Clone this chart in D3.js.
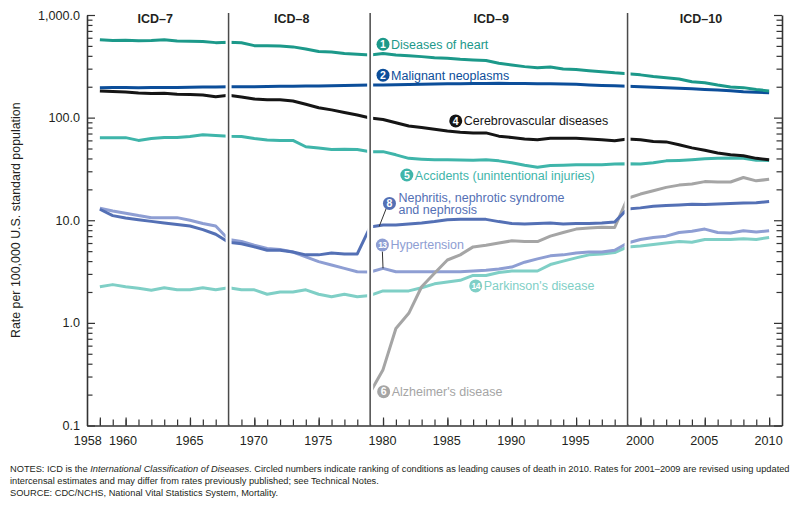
<!DOCTYPE html>
<html>
<head>
<meta charset="utf-8">
<script src="https://cdn.jsdelivr.net/npm/d3@7"></script>
<style>
  body { margin: 0; background: #fff; }
  svg { display: block; font-family: "Liberation Sans", Arial, Helvetica, sans-serif; }
</style>
</head>
<body>
<div id="chart"></div>
<script>
// age-adjusted death rates (one value per year)
var firstYear = 1958;
var lastYear = 2010;

var heart = [575, 563, 568, 560, 565, 575, 558, 555, 552, 538,
	543, 536, 503, 503, 500, 489, 467, 440, 436, 421,
	415, 408, 421, 408, 400, 393, 384, 379, 370, 365,
	360, 339, 326, 314, 307, 312, 298, 294, 287, 280,
	273, 268, 261, 251, 245, 238, 224, 219, 208, 199,
	196, 188, 182];
var cancer = [196, 197, 197, 196, 197, 197, 197, 198, 199, 199,
	200, 200, 200, 201, 202, 202, 203, 203, 205, 206,
	207, 208, 208, 209, 210, 211, 213, 214, 214, 215,
	215, 216, 215, 215, 214, 214, 213, 211, 208, 206,
	204, 202, 200, 198, 196, 193, 191, 188, 186, 183,
	179, 177, 175];
var stroke = [182, 180, 178, 174, 172, 173, 169, 168, 166, 160,
	165, 159, 152, 149, 149, 145, 135, 125, 119, 112,
	106, 99, 96, 89, 83, 80, 77, 74, 72, 71,
	71, 66, 64, 62, 61, 63, 63, 63, 62, 61,
	59.5, 62, 61, 58.6, 58, 54.5, 50.7, 48, 45.3, 43.4,
	42.5, 40.1, 38.9];
var accidents = [63.8, 63.8, 63.8, 60, 62.5, 64, 64, 65.5, 68, 67,
	66, 65.6, 62.5, 60.5, 60, 60, 52, 50.5, 48.8, 49.3,
	48.8, 46.6, 46.6, 43.4, 40.1, 39.4, 38.9, 38.9, 38.7, 38.5,
	38.9, 37.9, 36.3, 34.3, 32.8, 34.1, 34.3, 34.7, 34.7, 34.7,
	35.3, 35.6, 35.3, 36.3, 37.9, 38.3, 38.9, 39.7, 40.1, 40.5,
	40.1, 38.4, 38.3];
var nephritis = [12.8, 11.1, 10.5, 10.1, 9.75, 9.4, 9.1, 8.8, 8.1, 7.3,
	6.1, 5.9, 5.5, 5.1, 5.1, 4.9, 4.6, 4.6, 4.8, 4.7,
	4.7, 8.6, 9.0, 9.0, 9.2, 9.4, 9.7, 10.1, 10.2, 10.2,
	10.2, 9.7, 9.3, 9.2, 9.3, 9.4, 9.2, 9.3, 9.3, 9.4,
	9.6, 12.9, 13.2, 13.7, 13.9, 14.1, 14.3, 14.2, 14.4, 14.6,
	14.7, 14.8, 15.2];
var hypertension = [13.1, 12.3, 11.7, 11.1, 10.6, 10.6, 10.6, 10.0, 9.3, 8.8,
	6.5, 6.2, 5.7, 5.3, 5.2, 4.9, 4.4, 3.95, 3.66, 3.4,
	3.15, 3.13, 3.4, 3.15, 3.15, 3.15, 3.15, 3.15, 3.15, 3.2,
	3.25, 3.35, 3.5, 3.9, 4.2, 4.5, 4.6, 4.8, 4.9, 4.9,
	5.1, 6.0, 6.5, 6.8, 7.0, 7.6, 7.8, 8.2, 7.6, 7.5,
	7.9, 7.7, 7.9];
var parkinson = [2.25, 2.36, 2.25, 2.17, 2.08, 2.2, 2.1, 2.1, 2.2, 2.1,
	2.2, 2.1, 2.1, 1.9, 2.0, 2.0, 2.1, 1.9, 1.8, 1.9,
	1.8, 1.85, 2.05, 2.05, 2.05, 2.2, 2.4, 2.5, 2.6, 2.9,
	2.9, 3.1, 3.2, 3.2, 3.2, 3.7, 4.0, 4.3, 4.6, 4.7,
	4.85, 5.5, 5.6, 5.8, 6.0, 6.2, 6.1, 6.5, 6.5, 6.5,
	6.6, 6.5, 6.8];
// Alzheimer's disease is only shown from 1979 on
var alzheimerStart = 1979;
var alzheimer = [0.21, 0.35, 0.88, 1.24, 2.25, 3.04, 4.1, 4.6, 5.5, 5.7,
	6.0, 6.3, 6.2, 6.2, 7.0, 7.6, 8.2, 8.4, 8.55, 8.5,
	16.4, 18.0, 19.4, 20.9, 22.0, 22.6, 23.8, 23.6, 23.6, 26.1,
	24.2, 25.1];

// ICD revisions
var icdBreaks = [1968, 1979, 1999];
var icdNames = ['ICD–7', 'ICD–8', 'ICD–9', 'ICD–10'];
var icdLabelYears = [1962.3, 1972.9, 1988.4, 2004.7];

// axes
var yMajorTicks = [0.1, 1, 10, 100, 1000];
var xLabelYears = [1958, 1960, 1965, 1970, 1975, 1980, 1985, 1990, 1995, 2000, 2005, 2010];

var notes = [
	['NOTES: ICD is the ', 'International Classification of Diseases', '. Circled numbers indicate ranking of conditions as leading causes of death in 2010. Rates for 2001–2009 are revised using updated'],
	['intercensal estimates and may differ from rates previously published; see Technical Notes.'],
	['SOURCE: CDC/NCHS, National Vital Statistics System, Mortality.']
];

var params = {
	width: 800,
	height: 508,
	xRange: [87, 782],
	yRange: [425.5, 15],
	lineWidth: 3,
	axisColor: '#333',
	textColor: '#231f20',
	r: 6.5
};

function toPoints(values, start){
	return values.map(function(v, i){ return {year: start + i, value: v}; });
}

// series: label spot (circle centre) given as [year, rate]
var series = [
	{values: toPoints(parkinson, firstYear), color: '#7fcfc6', rank: '14', text: ["Parkinson's disease"], at: [1987.2, 2.29]},
	{values: toPoints(hypertension, firstYear), color: '#8e9ed3', rank: '13', text: ['Hypertension'], at: [1979.95, 5.74], leader: [1980, 3.4]},
	{values: toPoints(alzheimer, alzheimerStart), color: '#a5a5a5', rank: '6', text: ["Alzheimer's disease"], at: [1980.05, 0.2135]},
	{values: toPoints(nephritis, firstYear), color: '#5470b5', rank: '8', text: ['Nephritis, nephrotic syndrome', 'and nephrosis'], at: [1980.5, 14.6], leader: [1979.7, 8.7]},
	{values: toPoints(accidents, firstYear), color: '#3fb5aa', rank: '5', text: ['Accidents (unintentional injuries)'], at: [1981.85, 27.6]},
	{values: toPoints(stroke, firstYear), color: '#151515', rank: '4', text: ['Cerebrovascular diseases'], at: [1985.65, 92.9]},
	{values: toPoints(cancer, firstYear), color: '#0c4e9a', rank: '2', text: ['Malignant neoplasms'], at: [1980.0, 259]},
	{values: toPoints(heart, firstYear), color: '#1c998a', rank: '1', text: ['Diseases of heart'], at: [1980.0, 519]}
];

function createChart(){
	var svg = d3.select('#chart').append('svg')
		.attr('width', params.width)
		.attr('height', params.height);

	var x = d3.scaleLinear()
		.domain([firstYear - 1, lastYear + 1])
		.range(params.xRange);
	var y = d3.scaleLog()
		.domain([0.1, 1000])
		.range(params.yRange);

	var minorY = [];
	[0.1, 1, 10, 100].forEach(function(d){
		d3.range(2, 10).forEach(function(k){ minorY.push(d * k); });
	});

	// left axis
	var left = svg.append('g').attr('transform', 'translate(' + params.xRange[0] + ',0)');
	left.call(d3.axisLeft(y).tickValues(yMajorTicks).tickSize(-8).tickSizeOuter(0)
		.tickPadding(7).tickFormat(d3.format(',.1f')));
	left.append('g').call(d3.axisLeft(y).tickValues(minorY).tickSize(-5.5).tickFormat(''))
		.select('.domain').remove();

	// right axis (ticks only)
	var right = svg.append('g').attr('transform', 'translate(' + params.xRange[1] + ',0)');
	right.call(d3.axisRight(y).tickValues(yMajorTicks).tickSize(-8).tickSizeOuter(0).tickFormat(''));
	right.append('g').call(d3.axisRight(y).tickValues(minorY).tickSize(-5.5).tickFormat(''))
		.select('.domain').remove();

	// bottom axis
	var bottom = svg.append('g').attr('transform', 'translate(0,' + params.yRange[0] + ')');
	bottom.call(d3.axisBottom(x).tickValues(d3.range(firstYear, lastYear + 1)).tickSize(-6)
		.tickSizeOuter(0).tickFormat(''));
	var bottomLabels = bottom.append('g').call(d3.axisBottom(x).tickValues(xLabelYears).tickSize(-8)
		.tickPadding(11).tickFormat(d3.format('d')));
	bottomLabels.select('.domain').remove();
	bottomLabels.selectAll('text')
		.attr('text-anchor', function(d){ return d == 1958 ? 'end' : 'middle'; })
		.attr('dx', function(d){ return d == 1958 ? 1.5 : (d == 1960 ? -3 : -1); });

	svg.selectAll('.domain').attr('stroke', params.axisColor).attr('stroke-width', 1.6);
	svg.selectAll('.tick line').attr('stroke', params.axisColor).attr('stroke-width', 1.2);
	svg.selectAll('.tick text')
		.attr('fill', params.textColor)
		.style('font-size', '12.6px');

	// y axis title
	svg.append('text')
		.attr('transform', 'translate(20,' + (params.yRange[0] + params.yRange[1]) / 2 + ') rotate(-90)')
		.attr('text-anchor', 'middle')
		.attr('fill', params.textColor)
		.style('font-size', '12.4px')
		.text('Rate per 100,000 U.S. standard population');

	// the lines
	var line = d3.line()
		.x(function(d){ return x(d.year); })
		.y(function(d){ return y(d.value); });

	svg.append('g').selectAll('path')
		.data(series)
		.enter()
		.append('path')
			.attr('d', function(d){ return line(d.values); })
			.attr('fill', 'none')
			.attr('stroke', function(d){ return d.color; })
			.attr('stroke-width', params.lineWidth)
			.attr('stroke-linejoin', 'round');

	// ICD separators, with a white band so the lines look broken
	var seps = svg.append('g');
	seps.selectAll('.halo')
		.data(icdBreaks)
		.enter()
		.append('line')
			.attr('class', 'halo')
			.attr('x1', function(d){ return x(d); })
			.attr('x2', function(d){ return x(d); })
			.attr('y1', params.yRange[1] - 2)
			.attr('y2', params.yRange[0] - 1)
			.attr('stroke', '#fff')
			.attr('stroke-width', 6);
	seps.selectAll('.sep')
		.data(icdBreaks)
		.enter()
		.append('line')
			.attr('class', 'sep')
			.attr('x1', function(d){ return x(d); })
			.attr('x2', function(d){ return x(d); })
			.attr('y1', params.yRange[1] - 2)
			.attr('y2', params.yRange[0])
			.attr('stroke', '#4a4a4a')
			.attr('stroke-width', 1.5);

	svg.append('g').selectAll('text')
		.data(icdNames)
		.enter()
		.append('text')
			.attr('x', function(d, i){ return x(icdLabelYears[i]); })
			.attr('y', 23)
			.attr('text-anchor', 'middle')
			.attr('fill', params.textColor)
			.style('font-size', '12.5px')
			.style('font-weight', 'bold')
			.text(function(d){ return d; });

	// labels with ranking circles
	var labels = svg.append('g').selectAll('g')
		.data(series)
		.enter()
		.append('g')
			.attr('transform', function(d){ return 'translate(' + x(d.at[0]) + ',' + y(d.at[1]) + ')'; });

	labels.filter(function(d){ return d.leader; })
		.append('line')
			.attr('x1', function(d){ return d.text.length > 1 ? -3 : 0; })
			.attr('y1', function(d){ return d.text.length > 1 ? 4.5 : params.r; })
			.attr('x2', function(d){ return x(d.leader[0]) - x(d.at[0]); })
			.attr('y2', function(d){ return y(d.leader[1]) - y(d.at[1]); })
			.attr('stroke', '#333')
			.attr('stroke-width', 1);

	labels.append('circle')
		.attr('r', params.r)
		.attr('fill', function(d){ return d.color; });
	labels.append('text')
		.attr('text-anchor', 'middle')
		.attr('y', function(d){ return d.rank.length > 1 ? 3.2 : 3.7; })
		.attr('fill', '#fff')
		.style('font-size', function(d){ return d.rank.length > 1 ? '8.5px' : '10.5px'; })
		.style('font-weight', 'bold')
		.style('letter-spacing', function(d){ return d.rank.length > 1 ? '-0.5px' : '0'; })
		.text(function(d){ return d.rank; });
	labels.each(function(d){
		var g = d3.select(this);
		var first = d.text.length > 1 ? -1.5 : 4.5;
		d.text.forEach(function(t, i){
			g.append('text')
				.attr('x', d.text.length > 1 ? 9 : 8)
				.attr('y', first + i * 12.5)
				.attr('fill', d.color)
				.style('font-size', '12.5px')
				.text(t);
		});
	});

	// notes
	var noteG = svg.append('g').attr('fill', params.textColor);
	var noteSize = 9.3;
	var noteLines = noteG.selectAll('text')
		.data(notes)
		.enter()
		.append('text')
			.attr('x', 10)
			.attr('y', function(d, i){ return 472 + i * 12; })
			.style('font-size', noteSize + 'px');
	noteLines.each(function(parts){
		var t = d3.select(this);
		parts.forEach(function(p, i){
			t.append('tspan')
				.style('font-style', i == 1 ? 'italic' : 'normal')
				.text(p);
		});
	});
	// shrink the notes so the first line ends where the figure ends
	var w = noteLines.node().getComputedTextLength();
	if (w > 780){
		noteLines.style('font-size', (noteSize * 780 / w) + 'px');
	}
}

createChart();
</script>
</body>
</html>
